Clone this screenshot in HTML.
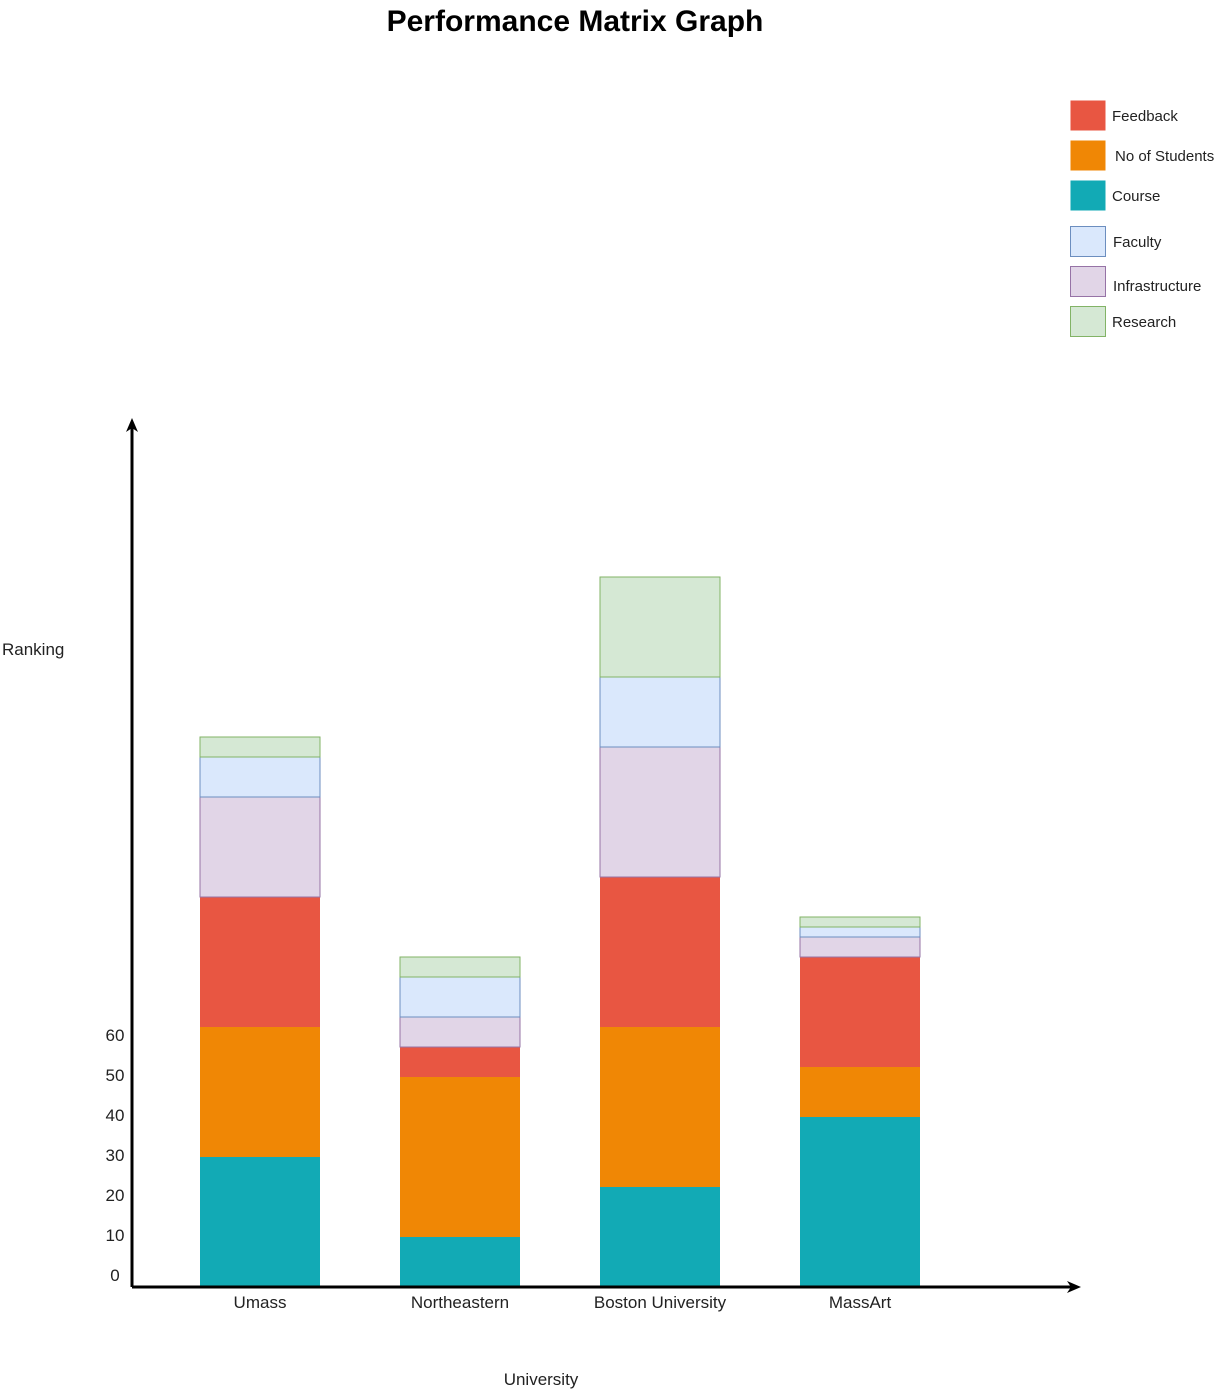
<!DOCTYPE html>
<html><head><meta charset="utf-8"><style>
body{margin:0;background:#fff;font-family:"Liberation Sans",sans-serif}
svg text{font-family:"Liberation Sans",sans-serif}
</style></head><body>
<svg width="1214" height="1391" xmlns="http://www.w3.org/2000/svg">
<text x="575" y="31" text-anchor="middle" font-size="30" font-weight="bold">Performance Matrix Graph</text>
<g id="legend"></g>
<g id="bars"></g>
<g id="axes">
<line x1="132" y1="1287" x2="132" y2="428" stroke="#000" stroke-width="3"/>
<polygon points="132,418 126,432 132,428 138,432" fill="#000"/>
<line x1="132" y1="1287" x2="1072" y2="1287" stroke="#000" stroke-width="3"/>
<polygon points="1081,1287 1067,1281 1071,1287 1067,1293" fill="#000"/>
</g>
<text x="2" y="655" font-size="17" fill="#222">Ranking</text>
<text x="541" y="1385" text-anchor="middle" font-size="17" fill="#222">University</text>
<g id="ticks"></g>
</svg>
<script>
const categories=["Umass","Northeastern","Boston University","MassArt"];
const seriesNames=["Course","No of Students","Feedback","Infrastructure","Faculty","Research"];
const course=[32.5,12.5,25,42.5];
const students=[32.5,40,40,12.5];
const feedback=[32.5,7.5,37.5,27.5];
const infrastructure=[25,7.5,32.5,5];
const faculty=[10,10,17.5,2.5];
const research=[5,5,25,2.5];
const tickLabels=[0,10,20,30,40,50,60];
const series=[course,students,feedback,infrastructure,faculty,research];
const fills=["#12AAB5","#F08705","#E85642","#e1d5e7","#dae8fc","#d5e8d4"];
const strokes=["none","none","none","#9673a6","#6c8ebf","#82b366"];
const NS="http://www.w3.org/2000/svg";
function y(v){return 1287-4*v;}
function x(i){return 200+200*i;}
const bw=120;
const bars=document.getElementById('bars');
categories.forEach((c,i)=>{
  let acc=0;
  series.forEach((s,k)=>{
    const r=document.createElementNS(NS,'rect');
    r.setAttribute('x',x(i));r.setAttribute('y',y(acc+s[i]));
    r.setAttribute('width',bw);r.setAttribute('height',y(acc)-y(acc+s[i]));
    r.setAttribute('fill',fills[k]);r.setAttribute('stroke',strokes[k]);
    
    
    bars.appendChild(r);acc+=s[i];
  });
  const t=document.createElementNS(NS,'text');
  t.setAttribute('x',x(i)+bw/2);t.setAttribute('y',1308);t.setAttribute('text-anchor','middle');
  t.setAttribute('font-size','17');t.setAttribute('fill','#222');t.textContent=c;
  
  
  document.getElementById('axes').appendChild(t);
});
const ticks=document.getElementById('ticks');
tickLabels.forEach(v=>{
  const t=document.createElementNS(NS,'text');
  t.setAttribute('x',115);t.setAttribute('y',y(v)-6);t.setAttribute('text-anchor','middle');
  t.setAttribute('font-size','17');t.setAttribute('fill','#222');t.textContent=v;
  
  
  ticks.appendChild(t);
});
const legendOrder=[2,1,0,4,3,5];
const legendY=[100,140,180,226,266,306];
const legendLabelX=[1112,1115,1112,1113,1113,1112];
const legendLabelDy=[21,21,21,21,25,21];
const lg=document.getElementById('legend');
legendOrder.forEach((k,j)=>{
  const r=document.createElementNS(NS,'rect');
  r.setAttribute('x',1070.5);r.setAttribute('y',legendY[j]+0.5);r.setAttribute('width',35);r.setAttribute('height',30);
  r.setAttribute('fill',fills[k]);r.setAttribute('stroke',strokes[k]);
  
  
  lg.appendChild(r);
  const t=document.createElementNS(NS,'text');
  t.setAttribute('x',legendLabelX[j]);t.setAttribute('y',legendY[j]+legendLabelDy[j]);
  t.setAttribute('font-size','15');t.setAttribute('fill','#222');t.textContent=seriesNames[k];
  
  
  lg.appendChild(t);
});
</script>
</body></html>
